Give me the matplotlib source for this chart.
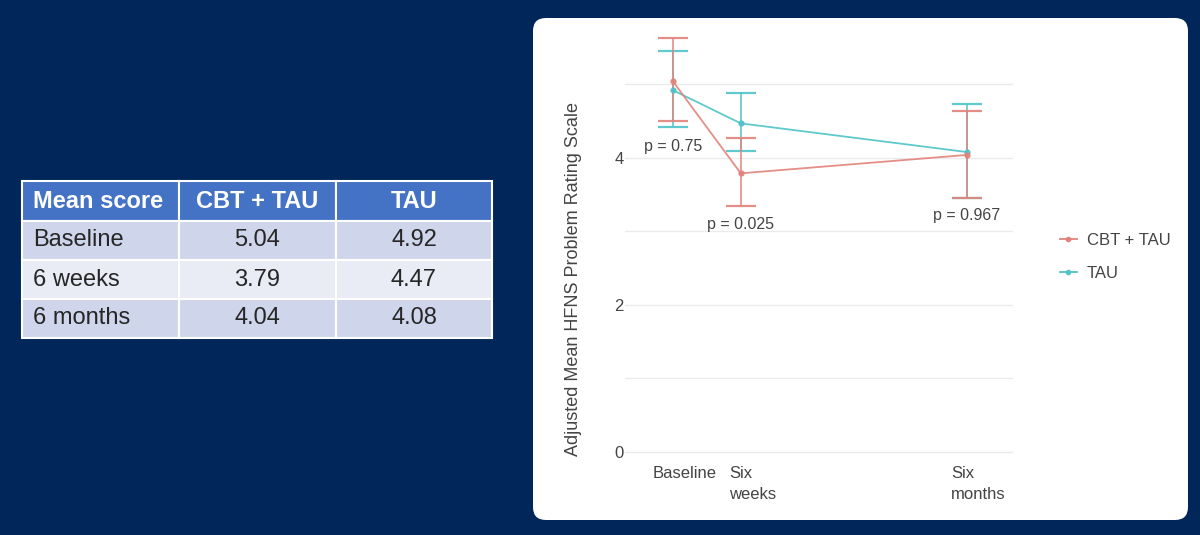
import numpy as np
import matplotlib.pyplot as plt
from matplotlib.patches import FancyBboxPatch, Rectangle
from matplotlib.lines import Line2D
import matplotlib.transforms as mtransforms

plt.rcParams['font.family'] = ['Liberation Sans', 'DejaVu Sans']

# table data
table_header = ["Mean score", "CBT + TAU", "TAU"]
table_rows = ["Baseline", "6 weeks", "6 months"]
table_cbt = ["5.04", "3.79", "4.04"]
table_tau = ["4.92", "4.47", "4.08"]

# chart data (x in weeks)
time_weeks = [0, 6, 26]
time_labels = ["Baseline", "Six\nweeks", "Six\nmonths"]
cbt_mean = [5.04, 3.79, 4.04]
cbt_lower = [4.50, 3.35, 3.46]
cbt_upper = [5.63, 4.27, 4.64]
tau_mean = [4.92, 4.47, 4.08]
tau_lower = [4.42, 4.09, 3.46]
tau_upper = [5.46, 4.88, 4.73]
p_values = ["p = 0.75", "p = 0.025", "p = 0.967"]
p_label_y = [4.16, 3.10, 3.21]

bg = "#00265a"
cbt_col = "#e0837a"
tau_col = "#4fc3c8"
text_col = "#444444"

fig = plt.figure(figsize=(12, 5.35), dpi=100, facecolor=bg)
inch = fig.dpi_scale_trans
H = 5.35

# ---- table on the left (pixel layout converted to inches) ----
col_x = [22, 179, 336, 492]
row_y = [181, 221, 260, 299, 338]
row_cols = ["#4472c4", "#cfd5ea", "#e9ebf5", "#cfd5ea"]
for r in range(4):
    for c in range(3):
        x0, x1 = col_x[c] / 100, col_x[c + 1] / 100
        y0, y1 = H - row_y[r + 1] / 100, H - row_y[r] / 100
        fig.add_artist(Rectangle((x0, y0), x1 - x0, y1 - y0, transform=inch,
                                 facecolor=row_cols[r], edgecolor="white", lw=1.5,
                                 zorder=-2))

cells = [table_header] + [[table_rows[i], table_cbt[i], table_tau[i]] for i in range(3)]
for r, row in enumerate(cells):
    yc = H - (row_y[r] + row_y[r + 1]) / 200
    for c, txt in enumerate(row):
        if c == 0:
            xc, ha = (col_x[0] + 11) / 100, "left"
        else:
            xc, ha = (col_x[c] + col_x[c + 1]) / 200, "center"
        if r == 0:
            fig.text(xc, yc, txt, transform=inch, ha=ha, va="center",
                     fontsize=17, color="white", fontweight="bold")
        else:
            fig.text(xc, yc, txt, transform=inch, ha=ha, va="center",
                     fontsize=17, color="#262626")

# ---- white panel ----
fig.add_artist(FancyBboxPatch((5.33, H - 5.20), 6.55, 5.02, transform=inch,
                              boxstyle="round,pad=0,rounding_size=0.13",
                              facecolor="white", edgecolor="none", zorder=-2))

# ---- chart ----
ax = fig.add_axes([625 / 1200, 75 / 535, 388 / 1200, 430 / 535])
ax.set_facecolor("white")

for mean, lo, hi, col, lab in [(tau_mean, tau_lower, tau_upper, tau_col, "TAU"),
                               (cbt_mean, cbt_lower, cbt_upper, cbt_col, "CBT + TAU")]:
    mean = np.array(mean)
    yerr = [mean - np.array(lo), np.array(hi) - mean]
    ax.errorbar(time_weeks, mean, yerr=yerr, color=col, lw=1.3, marker="o",
                markersize=3.5, capsize=11, capthick=1.6, elinewidth=1.2,
                alpha=0.9, zorder=3, label=lab)

for x, y, t in zip(time_weeks, p_label_y, p_values):
    ax.text(x, y, t, ha="center", va="center", fontsize=11.5, color=text_col)

ax.set_xlim(-4.25, 30.1)
ax.set_ylim(-0.11, 5.74)
ax.set_yticks([0, 1, 2, 3, 4, 5])
ax.set_yticklabels(["0", "", "2", "", "4", ""])
ax.set_xticks(time_weeks)
ax.set_xticklabels([])
# x labels sit a little right of their ticks, as in the source
lbl_tr = mtransforms.blended_transform_factory(ax.transData, ax.transAxes) + \
    mtransforms.ScaledTranslation(0.12, 0, fig.dpi_scale_trans)
for x, t in zip(time_weeks, time_labels):
    ax.text(x, -0.015, t, transform=lbl_tr, ha="center", va="top",
            multialignment="left", linespacing=1.45, fontsize=12, color=text_col)
ax.tick_params(axis="both", length=0, labelsize=12, colors=text_col, pad=6)
ax.tick_params(axis="y", pad=1)
ax.grid(axis="y", color="#ebebeb", lw=1)
ax.set_axisbelow(True)
for s in ax.spines.values():
    s.set_visible(False)
ax.set_ylabel("Adjusted Mean HFNS Problem Rating Scale", fontsize=13,
              color=text_col)
ax.yaxis.set_label_coords(-0.112, 0.42)

handles = [Line2D([0], [0], color=cbt_col, lw=1.3, marker="o", markersize=3),
           Line2D([0], [0], color=tau_col, lw=1.3, marker="o", markersize=3)]
fig.legend(handles, ["CBT + TAU", "TAU"], loc="center left",
           bbox_to_anchor=(1045 / 1200, (535 - 257) / 535), frameon=False,
           fontsize=12, handlelength=1.0, handletextpad=0.6, labelspacing=1.1,
           labelcolor=text_col)

fig.savefig("out.png", dpi=100, facecolor=bg)
